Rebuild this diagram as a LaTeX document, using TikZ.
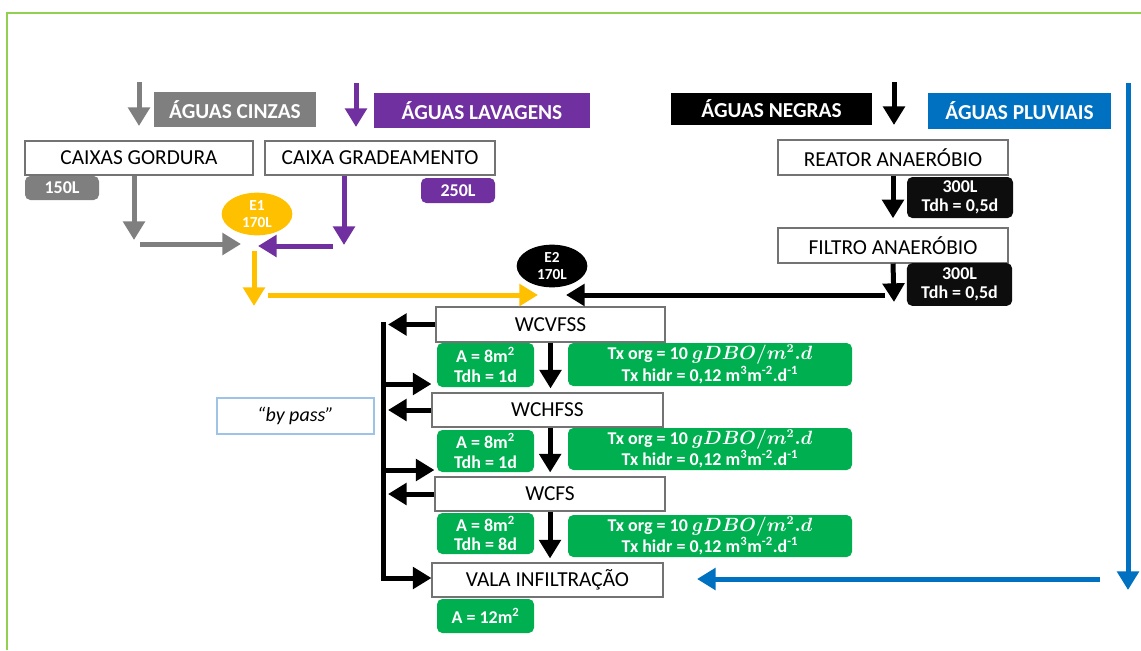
\documentclass[tikz,border=0pt]{standalone}
\usepackage{fontspec}
\setmainfont{Carlito}
\usetikzlibrary{arrows.meta}
\usetikzlibrary{shapes.geometric}

\definecolor{cinza}{HTML}{7F7F7F}
\definecolor{roxo}{HTML}{7030A0}
\definecolor{azul}{HTML}{0070C0}
\definecolor{amarelo}{HTML}{FFC000}
\definecolor{verde}{HTML}{00B050}
\definecolor{moldura}{HTML}{92D050}
\definecolor{azulclaro}{HTML}{9DC3E6}
\definecolor{preto}{HTML}{0D0D0D}

\begin{document}
\begin{tikzpicture} [
        x=0.75pt, y=-0.75pt,
        caixa/.style={draw=black!55, line width=0.8pt, fill=white, inner sep=0pt, font=\fontsize{16}{18}\selectfont},
        titulo/.style={fill=#1, text=white, inner sep=0pt, font=\bfseries\fontsize{16}{18}\selectfont},
        etiqueta/.style={fill=#1, text=white, rounded corners=4pt, inner sep=0pt, align=center, font=\bfseries\fontsize{13.5}{14.5}\selectfont},
        tanque/.style={ellipse, fill=#1, text=white, inner sep=0pt, minimum width=53pt, minimum height=32pt, align=center, font=\bfseries\fontsize{11.5}{13}\selectfont},
        fluxo/.style={draw=#1, line width=3.75pt, -{Triangle[length=14pt,width=16pt]}} ]
    \useasboundingbox (0,0) rectangle (1141,650);
    \draw[moldura, line width=1.5pt] (7,650) -- (7,13) -- (1141,13);

    \node[titulo=cinza, minimum width=121.5pt, minimum height=26.25pt] (cinzas) at (235,109.5) {ÁGUAS CINZAS};
    \node[titulo=roxo, minimum width=162pt, minimum height=26.25pt] (lavagens) at (482,110.5) {ÁGUAS LAVAGENS};
    \node[titulo=black, minimum width=150.75pt, minimum height=24pt] (negras) at (771.5,109) {ÁGUAS NEGRAS};
    \node[titulo=azul, minimum width=137.25pt, minimum height=27pt] (pluviais) at (1019.5,111) {ÁGUAS PLUVIAIS};

    \node[caixa, minimum width=171pt, minimum height=25.5pt] (gord) at (139,158) {CAIXAS GORDURA};
    \node[etiqueta=cinza, minimum width=55.5pt, minimum height=18pt] (t150) at (62,188) {150L};
    \node[caixa, minimum width=172.5pt, minimum height=25.5pt] (grad) at (380,158) {CAIXA GRADEAMENTO};
    \node[etiqueta=roxo, minimum width=55.5pt, minimum height=18.75pt] (t250) at (458,190.5) {250L};
    \node[tanque=amarelo] (e1) at (257,214) {E1\\170L};

    \node[caixa, minimum width=172.5pt, minimum height=26.25pt] (reator) at (893,157.5) {REATOR ANAERÓBIO};
    \node[etiqueta=preto, minimum width=79.5pt, minimum height=30.75pt] (t300a) at (960,197.5) {300L\\Tdh = 0,5d};
    \node[caixa, minimum width=172.5pt, minimum height=26.25pt] (filtro) at (893,245.5) {FILTRO ANAERÓBIO};
    \node[etiqueta=preto, minimum width=79pt, minimum height=32pt] (t300b) at (959.5,284.5) {300L\\Tdh = 0,5d};
    \node[tanque=black] (e2) at (552,266) {E2\\170L};

    \node[caixa, minimum width=171.75pt, minimum height=26.25pt] (wcvfss) at (550.5,324.5) {WCVFSS};
    \node[etiqueta=verde, minimum width=72.75pt, minimum height=33pt] (a1) at (485.5,365) {A = 8m\textsuperscript{2}\\Tdh = 1d};
    \node[etiqueta=verde, minimum width=213pt, minimum height=32.25pt] (tx1) at (710,364.5) {Tx org = 10 {\boldmath$gDBO/m^2.d$}\\Tx hidr = 0,12 m\textsuperscript{3}m\textsuperscript{-2}.d\textsuperscript{-1}};
    \node[caixa, minimum width=173.25pt, minimum height=25.5pt] (wchfss) at (547.5,410) {WCHFSS};
    \node[etiqueta=verde, minimum width=72.75pt, minimum height=31.5pt] (a2) at (485.5,451) {A = 8m\textsuperscript{2}\\Tdh = 1d};
    \node[etiqueta=verde, minimum width=213pt, minimum height=31.5pt] (tx2) at (710,449) {Tx org = 10 {\boldmath$gDBO/m^2.d$}\\Tx hidr = 0,12 m\textsuperscript{3}m\textsuperscript{-2}.d\textsuperscript{-1}};
    \node[caixa, minimum width=172.5pt, minimum height=25.5pt] (wcfs) at (550,494) {WCFS};
    \node[etiqueta=verde, minimum width=72.75pt, minimum height=30.75pt] (a3) at (485.5,533.5) {A = 8m\textsuperscript{2}\\Tdh = 8d};
    \node[etiqueta=verde, minimum width=213pt, minimum height=31.5pt] (tx3) at (710,536) {Tx org = 10 {\boldmath$gDBO/m^2.d$}\\Tx hidr = 0,12 m\textsuperscript{3}m\textsuperscript{-2}.d\textsuperscript{-1}};
    \node[caixa, minimum width=173.25pt, minimum height=25.5pt] (vala) at (547.5,580) {VALA INFILTRAÇÃO};
    \node[etiqueta=verde, minimum width=72.75pt, minimum height=25.5pt] (a4) at (485.5,616) {A = 12m\textsuperscript{2}};
    \node[draw=azulclaro, line width=0.8pt, inner sep=0pt, minimum width=117.75pt, minimum height=27pt, font=\itshape\fontsize{15}{17}\selectfont] (bypass) at (295.5,416) {“by pass”};

    \coordinate (cz0) at (139,82);   \coordinate (cz1) at (139,126);
    \coordinate (lv0) at (356,83);   \coordinate (lv1) at (356,127);
    \coordinate (ng0) at (894,82);   \coordinate (ng1) at (894,125);
    \coordinate (pl0) at (1128,83);  \coordinate (pl1) at (1128,590);
    \coordinate (pl2) at (1100,579); \coordinate (pl3) at (697,579);
    \coordinate (g1) at (134,240);   \coordinate (g2) at (140,244);  \coordinate (g3) at (241,244);
    \coordinate (r1) at (344,245);   \coordinate (r2) at (333,246);  \coordinate (r3) at (258,246);
    \coordinate (y0) at (254,251);   \coordinate (y1) at (254,306);
    \coordinate (y2) at (268,295);   \coordinate (y3) at (538,295);
    \coordinate (p1) at (894,302);   \coordinate (p2) at (885,295);  \coordinate (p3) at (566,295);
    \coordinate (bp0) at (383,322);  \coordinate (bp1) at (383,578);
    \coordinate (by1) at (383,384);  \coordinate (by2) at (383,470);

    \draw[fluxo=cinza] (cz0) -- (cz1);
    \draw[fluxo=roxo] (lv0) -- (lv1);
    \draw[fluxo=black] (ng0) -- (ng1);
    \draw[fluxo=azul] (pl0) -- (pl1);
    \draw[fluxo=azul] (pl2) -- (pl3);

    \draw[fluxo=cinza] ([xshift=-3.75pt]gord.south) -- (g1);
    \draw[fluxo=cinza] (g2) -- (g3);
    \draw[fluxo=roxo] ([xshift=-27pt]grad.south) -- (r1);
    \draw[fluxo=roxo] (r2) -- (r3);
    \draw[fluxo=amarelo] (y0) -- (y1);
    \draw[fluxo=amarelo] (y2) -- (y3);

    \draw[fluxo=black] (reator.south) -- (reator.south |- t300a.south);
    \draw[fluxo=black] (filtro.south) -- (p1);
    \draw[fluxo=black] (p2) -- (p3);

    \draw[fluxo=black] (wcvfss.south) -- ([yshift=3pt]wcvfss.south |- wchfss.north);
    \draw[fluxo=black] ([xshift=2pt]wchfss.south) -- ([xshift=2pt,yshift=3pt]wchfss.south |- wcfs.north);
    \draw[fluxo=black] (wcfs.south) -- ([yshift=3pt]wcfs.south |- vala.north);

    \draw[fluxo=black] (wcvfss.west) -- ([xshift=3.75pt]wcvfss.west -| bp0);
    \draw[fluxo=black] (wchfss.west) -- ([xshift=3.75pt]wchfss.west -| bp0);
    \draw[fluxo=black] (wcfs.west) -- ([xshift=3.75pt]wcfs.west -| bp0);
    \draw[fluxo=black] (by1) -- (wchfss.west |- by1);
    \draw[fluxo=black] (by2) -- (wcfs.west |- by2);
    \draw[fluxo=black] (bp0) -- (bp1) -- (vala.west |- bp1);
\end{tikzpicture}
\end{document}
